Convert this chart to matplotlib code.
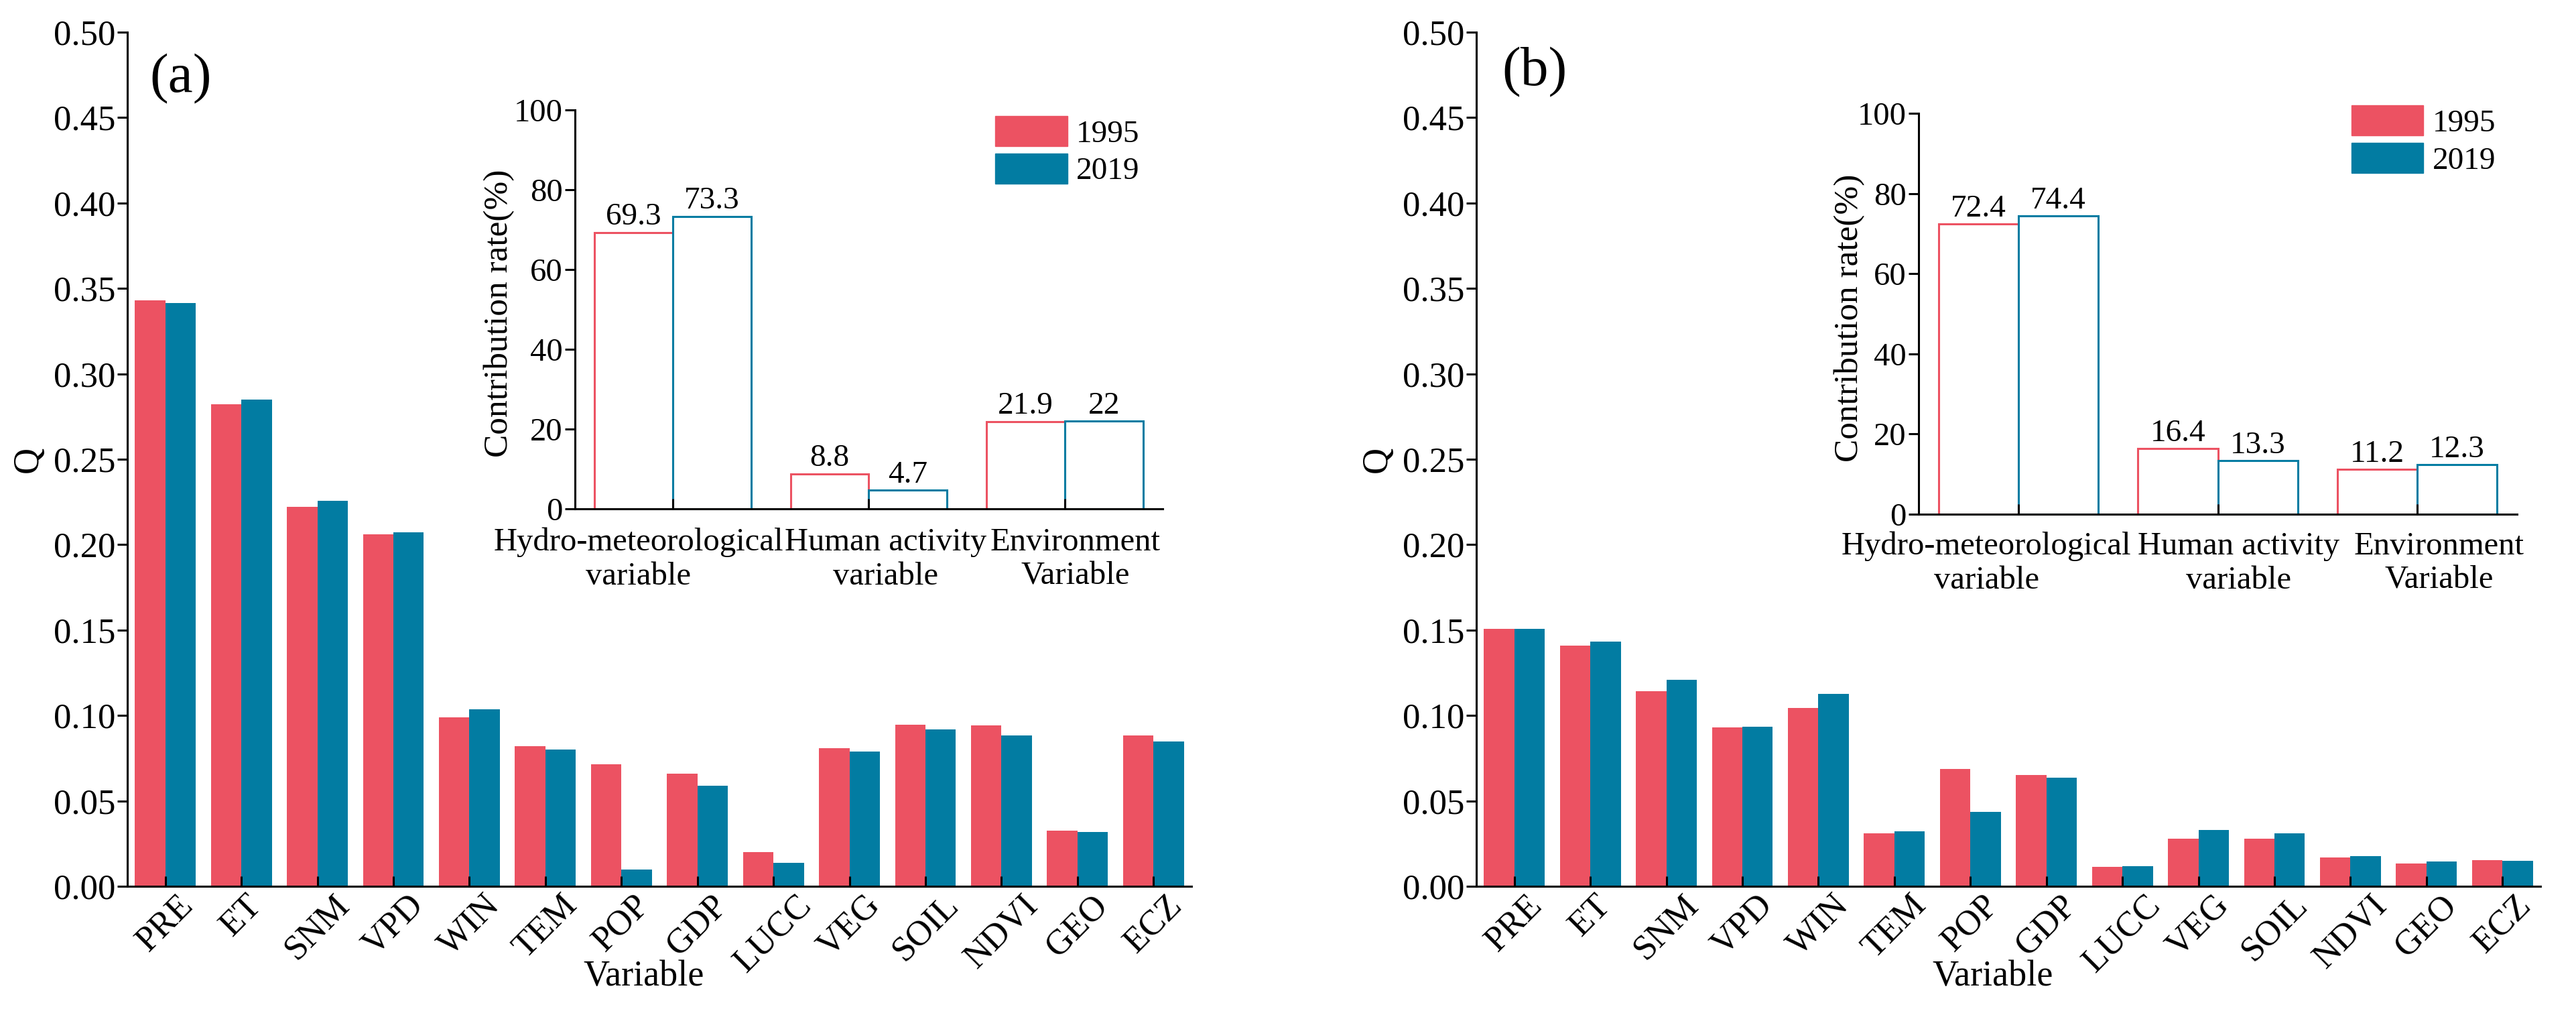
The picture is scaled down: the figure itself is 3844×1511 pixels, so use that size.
import matplotlib
matplotlib.use("Agg")
import matplotlib.pyplot as plt
import matplotlib.transforms as mtrans
from matplotlib.patches import Patch
import numpy as np

plt.rcParams['font.family'] = ['Liberation Serif', 'DejaVu Serif']

# main panels: Q value of each variable
variables = ["PRE", "ET", "SNM", "VPD", "WIN", "TEM", "POP", "GDP",
             "LUCC", "VEG", "SOIL", "NDVI", "GEO", "ECZ"]
q_a_1995 = [0.343, 0.282, 0.222, 0.206, 0.099, 0.082, 0.0715, 0.066,
            0.020, 0.081, 0.0946, 0.094, 0.0325, 0.0885]
q_a_2019 = [0.3415, 0.285, 0.2257, 0.2073, 0.1037, 0.080, 0.0098, 0.059,
            0.0136, 0.079, 0.0918, 0.0883, 0.0318, 0.0848]
q_b_1995 = [0.1507, 0.141, 0.1142, 0.0932, 0.1045, 0.0311, 0.0688, 0.065,
            0.0114, 0.0278, 0.028, 0.017, 0.0134, 0.0154]
q_b_2019 = [0.1508, 0.1434, 0.121, 0.0935, 0.1128, 0.0322, 0.0435, 0.0636,
            0.0117, 0.033, 0.031, 0.0178, 0.0144, 0.0148]

# insets: contribution rate of each variable group
groups = ["Hydro-meteorological\nvariable", "Human activity\nvariable",
          "Environment\nVariable"]
rate_a_1995 = [69.3, 8.8, 21.9]
rate_a_2019 = [73.3, 4.7, 22]
rate_b_1995 = [72.4, 16.4, 11.2]
rate_b_2019 = [74.4, 13.3, 12.3]
years = ["1995", "2019"]

RED = "#EC5262"
BLUE = "#027CA2"
LW = 2.2


def style_axes(ax):
    for s in ["top", "right"]:
        ax.spines[s].set_visible(False)
    for s in ["left", "bottom"]:
        ax.spines[s].set_linewidth(LW)
    ax.tick_params(axis="y", direction="out", length=11, width=LW, pad=2)
    ax.tick_params(axis="x", direction="in", length=11, width=LW)


def draw_main(ax, v1995, v2019, tag, tag_xy):
    x = np.arange(len(variables))
    ax.bar(x - 0.2, v1995, 0.4, color=RED)
    ax.bar(x + 0.2, v2019, 0.4, color=BLUE)
    ax.set_xlim(-0.5, len(variables) - 0.5)
    ax.set_ylim(0, 0.5)
    ax.set_yticks(np.arange(0, 0.501, 0.05))
    ax.yaxis.set_major_formatter(matplotlib.ticker.FormatStrFormatter("%.2f"))
    ax.set_xticks(x)
    ax.set_xticklabels(variables, rotation=45, ha="center", va="top")
    style_axes(ax)
    ax.tick_params(axis="both", labelsize=38)
    ax.tick_params(axis="x", pad=3)
    ax.set_ylabel("Q", fontsize=39, va="center")
    ax.yaxis.set_label_coords(-0.093, 0.5)
    ax.set_xlabel("Variable", fontsize=39, va="center")
    ax.xaxis.set_label_coords(0.485, -0.106)
    ax.text(tag_xy[0], tag_xy[1], tag, transform=ax.transAxes, fontsize=60,
            ha="center", va="center")


def draw_inset(ax, r1995, r2019, label_x, label_y, ylab_x):
    x = np.arange(len(groups))
    b1 = ax.bar(x - 0.2, r1995, 0.4, facecolor="white", edgecolor=RED,
                linewidth=LW)
    b2 = ax.bar(x + 0.2, r2019, 0.4, facecolor="white", edgecolor=BLUE,
                linewidth=LW)
    ax.bar_label(b1, fmt="%g", fontsize=34, padding=1)
    ax.bar_label(b2, fmt="%g", fontsize=34, padding=1)
    ax.set_xlim(-0.5, len(groups) - 0.5)
    ax.set_ylim(0, 100)
    ax.set_yticks(np.arange(0, 101, 20))
    ax.set_xticks(x)
    ax.set_xticklabels([])
    style_axes(ax)
    ax.tick_params(axis="y", labelsize=35)
    trans = mtrans.blended_transform_factory(ax.transData, ax.transAxes)
    for g, lx in zip(groups, label_x):
        ax.text(lx, label_y, g, transform=trans, fontsize=35, ha="center",
                va="center", multialignment="center", linespacing=1.2)
    ax.set_ylabel("Contribution rate(%)", fontsize=37, va="center")
    ax.yaxis.set_label_coords(ylab_x, 0.49)
    handles = [Patch(facecolor=RED, edgecolor=RED),
               Patch(facecolor=BLUE, edgecolor=BLUE)]
    return handles


fig = plt.figure(figsize=(38.44, 15.11), dpi=100)

ax_a = fig.add_axes([0.04943, 0.12508, 0.41311, 0.84315])
draw_main(ax_a, q_a_1995, q_a_2019, "(a)", (0.050, 0.945))
ax_b = fig.add_axes([0.57310, 0.12508, 0.41311, 0.84315])
draw_main(ax_b, q_b_1995, q_b_2019, "(b)", (0.055, 0.953))

in_a = fig.add_axes([0.22320, 0.49768, 0.22815, 0.39378])
h = draw_inset(in_a, rate_a_1995, rate_a_2019, [-0.175, 1.085, 2.055],
               -0.127, -0.129)
in_a.legend(h, years, loc="upper left", bbox_to_anchor=(0.715, 0.985),
            frameon=False, fontsize=34, handlelength=2.28, handleheight=1.1,
            handletextpad=0.28, labelspacing=0.15, borderpad=0,
            borderaxespad=0)

in_b = fig.add_axes([0.74480, 0.49239, 0.23231, 0.39577])
h = draw_inset(in_b, rate_b_1995, rate_b_2019, [-0.16, 1.105, 2.11],
               -0.123, -0.116)
in_b.legend(h, years, loc="upper left", bbox_to_anchor=(0.723, 1.02),
            frameon=False, fontsize=34, handlelength=2.28, handleheight=1.1,
            handletextpad=0.28, labelspacing=0.15, borderpad=0,
            borderaxespad=0)

fig.savefig("out.png", dpi=100)
